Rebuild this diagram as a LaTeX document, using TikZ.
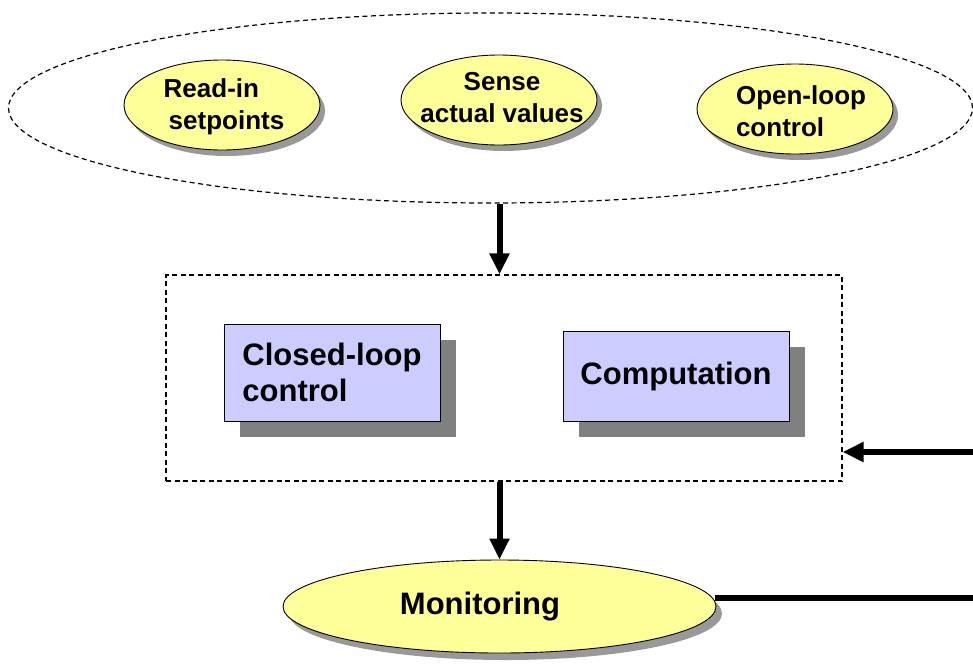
\documentclass[tikz,border=0pt]{standalone}
\usepackage{fontspec}
\setmainfont{Liberation Sans}
\usetikzlibrary{shapes.geometric,shadows,arrows.meta}
\definecolor{yfill}{HTML}{FFFF99}
\definecolor{bfill}{HTML}{CCCCFF}
\definecolor{bshadow}{HTML}{808080}
\definecolor{eshadow}{HTML}{999999}
\begin{document}
\begin{tikzpicture}[x=1pt,y=-1pt,
  task/.style={ellipse, draw=black, line width=0.9pt, fill=yfill, inner sep=0pt,
    minimum width=196pt, minimum height=90pt,
    drop shadow={shadow xshift=5pt, shadow yshift=-6pt, fill=eshadow, opacity=1}},
  tasktext/.style={inner sep=0pt, align=left, font=\bfseries\fontsize{26}{32}\selectfont},
  blockbox/.style={rectangle, draw=black, line width=0.9pt, fill=bfill, inner sep=0pt,
    align=left, font=\bfseries\fontsize{31}{36}\selectfont,
    drop shadow={shadow xshift=16pt, shadow yshift=-16pt, fill=bshadow, opacity=1}},
  groupline/.style={draw=black, line width=1.2pt, dash pattern=on 5pt off 3.5pt},
  arr/.style={line width=6pt, -{Triangle[length=21pt,width=19pt]}},
  thick line/.style={line width=6pt}
]
\useasboundingbox (0,0) rectangle (973,664);
% top group
\node[groupline, ellipse, minimum width=964pt, minimum height=190pt, inner sep=0pt] (group) at (490.5,108) {};
\node[task] (readin) at (222,105) {};
\node[tasktext] (readin-t) at (224,107) {Read-in\\\hspace*{5pt}setpoints};
\node[task] (sense) at (499,100) {};
\node[tasktext, align=center] (sense-t) at (502,98) {Sense\\actual values};
\node[task] (openloop) at (795,109) {};
\node[tasktext] (openloop-t) at (801,111) {Open-loop\\control};
% middle frame
\node[groupline, rectangle, minimum width=676pt, minimum height=206pt, inner sep=0pt] (frame) at (504,378) {};
\node[blockbox, minimum width=216pt, minimum height=97pt] (closed) at (332,372.5) {Closed-loop\\control};
\node[blockbox, minimum width=226pt, minimum height=90pt] (comp) at (676,376) {Computation};
% monitoring
\node[ellipse, draw=black, line width=0.9pt, fill=yfill, inner sep=0pt,
  minimum width=433pt, minimum height=93pt,
  drop shadow={shadow xshift=6pt, shadow yshift=-7pt, fill=eshadow, opacity=1}] (mon) at (499.5,606.5) {};
\node[font=\bfseries\fontsize{31}{36}\selectfont, inner sep=0pt] (montext) at (480,607) {Monitoring};
% connectors
\coordinate (rt1) at (975,598);
\coordinate (rt2) at (975,452);
\draw[arr] (mon.north |- group.south) -- (mon.north |- frame.north);
\draw[arr] (mon.north |- frame.south) -- (mon.north);
\draw[thick line] (715,598) -- (rt1);
\draw[arr] (rt2) -- (rt2 -| frame.east);
\end{tikzpicture}
\end{document}
